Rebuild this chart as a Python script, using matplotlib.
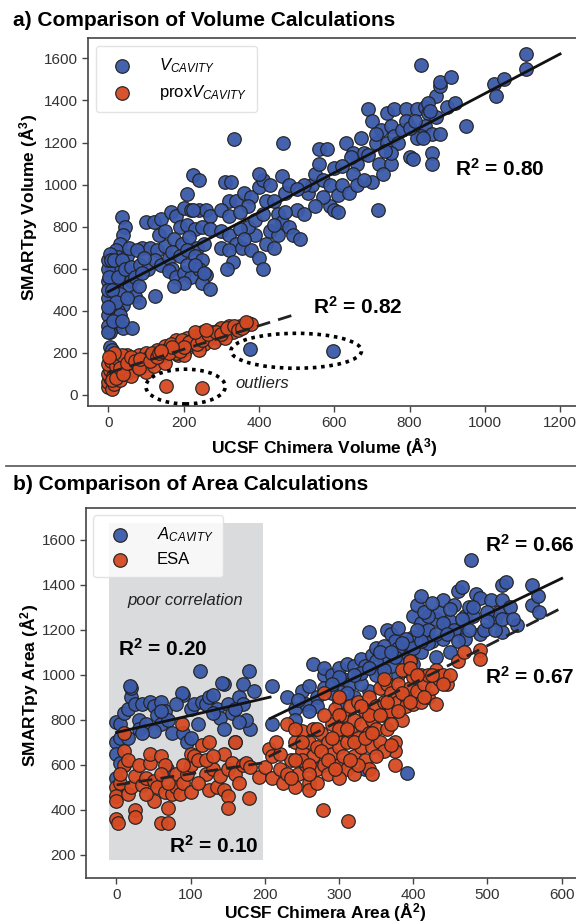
import numpy as np
import matplotlib
matplotlib.use("Agg")
import matplotlib.pyplot as plt
from matplotlib.patches import Ellipse, Rectangle
from matplotlib.lines import Line2D

plt.rcParams['font.family'] = ['Liberation Sans', 'DejaVu Sans']
plt.rcParams['mathtext.fontset'] = 'custom'
plt.rcParams['mathtext.rm'] = 'Liberation Sans'
plt.rcParams['mathtext.it'] = 'Liberation Sans:italic'
plt.rcParams['mathtext.bf'] = 'Liberation Sans:bold'

BLUE = '#3b5aa9'
RED = '#d64a22'

# ---- panel a: volumes (Chimera, SMARTpy) ----
vcav = np.array([
    (35, 845), (45, 800), (40, 760), (30, 720), (20, 690), (25, 655), (50, 660), (10, 610),
    (15, 575), (30, 600), (45, 560), (60, 540), (55, 520), (20, 520), (10, 470), (30, 480),
    (70, 470), (80, 440), (40, 430), (25, 400), (15, 370), (20, 330), (40, 320), (63, 318),
    (5, 300), (10, 400), (0, 460), (0, 540), (0, 600), (0, 640), (5, 670), (0, 380),
    (0, 330), (0, 300), (3, 230), (10, 215), (8, 640), (2, 560), (0, 500), (5, 420),
    (15, 640), (25, 560), (35, 640), (10, 500), (20, 440), (30, 380), (45, 600), (55, 700),
    (60, 610), (70, 560), (80, 520), (50, 460), (0, 420), (12, 350), (35, 350),
    (100, 820), (120, 820), (140, 835), (90, 700), (110, 700), (130, 690), (150, 710), (85, 620),
    (105, 600), (125, 640), (140, 620), (160, 650), (170, 600), (90, 580), (75, 690), (95, 650),
    (125, 470), (135, 760), (150, 780), (165, 870), (180, 850), (200, 890), (220, 880), (240, 880),
    (260, 880), (270, 850), (190, 800), (210, 810), (230, 790), (250, 800), (270, 790), (175, 740),
    (195, 720), (215, 750), (235, 700), (255, 720), (170, 680), (190, 660), (210, 690), (230, 660),
    (250, 640), (160, 590), (180, 560), (200, 580), (220, 560), (240, 600), (260, 570), (250, 530),
    (270, 505), (200, 530), (175, 520), (210, 620), (230, 620), (255, 580), (225, 1045), (240, 1020),
    (210, 955), (225, 880), (310, 1010), (325, 1010), (335, 1215), (320, 920), (340, 920), (300, 880),
    (320, 850), (360, 960), (380, 940), (370, 900), (350, 870), (300, 780), (320, 760), (340, 720),
    (300, 700), (320, 690), (330, 630), (355, 700), (380, 690), (400, 650), (410, 600), (390, 760),
    (370, 800), (390, 830), (410, 860), (420, 920), (400, 990), (410, 1020), (430, 1000), (440, 920),
    (450, 860), (430, 780), (420, 720), (440, 700), (400, 1050), (350, 790), (360, 740), (315, 600),
    (460, 1040), (465, 1200), (470, 960), (480, 1000), (500, 880), (460, 820), (480, 800), (490, 760),
    (510, 740), (520, 860), (530, 960), (540, 1000), (550, 1050), (560, 1170), (570, 1020), (580, 1170),
    (590, 900), (570, 940), (550, 900), (520, 1000), (500, 980), (450, 760), (440, 810), (470, 870),
    (560, 1100), (590, 1000), (600, 1080), (610, 950), (600, 880), (610, 870), (620, 1000), (630, 1200),
    (640, 960), (650, 1150), (660, 1100), (650, 1050), (660, 1000), (670, 1220), (680, 1150), (690, 1360),
    (700, 1300), (710, 1200), (720, 1100), (700, 1010), (715, 880), (680, 1020), (725, 1260), (740, 1340),
    (750, 1280), (760, 1360), (740, 1200), (750, 1100), (730, 1050), (760, 1230), (770, 1200), (780, 1260),
    (790, 1360), (800, 1130), (810, 1120), (790, 1300), (820, 1360), (690, 1140), (710, 1240), (750, 1150),
    (735, 1160), (645, 1130), (620, 1090), (830, 1570), (840, 1370), (850, 1340), (860, 1150), (860, 1100),
    (840, 1280), (830, 1230), (860, 1240), (870, 1420), (880, 1470), (880, 1490), (900, 1370), (910, 1510),
    (920, 1390), (880, 1240), (950, 1280), (870, 1320), (850, 1390), (820, 1220), (800, 1270), (815, 1300),
    (835, 1220), (855, 1350), (1025, 1480), (1030, 1420), (1050, 1500), (1110, 1620), (1110, 1550),
    (377, 219), (598, 209),
])
prox_vcav = np.array([
    (0, 40), (0, 60), (3, 80), (0, 100), (5, 120), (0, 145), (8, 160), (10, 30), (15, 50),
    (12, 90), (20, 110), (20, 140), (25, 170), (30, 70), (35, 100), (40, 130), (45, 160), (50, 190),
    (55, 110), (60, 140), (65, 170), (70, 120), (75, 150), (80, 190), (90, 140), (95, 170), (100, 200),
    (105, 155), (110, 185), (120, 170), (125, 200), (130, 215), (140, 185), (145, 210), (150, 235),
    (155, 195), (160, 225), (170, 210), (175, 240), (180, 260), (185, 190), (190, 230), (200, 250),
    (205, 220), (210, 270), (220, 240), (225, 260), (230, 280), (240, 250), (245, 270), (250, 300),
    (255, 240), (260, 280), (270, 270), (275, 300), (280, 290), (290, 270), (295, 310), (300, 320),
    (305, 290), (310, 300), (320, 330), (325, 310), (330, 300), (340, 320), (350, 330), (360, 330),
    (370, 340), (380, 335), (100, 110), (120, 140), (200, 190), (150, 150), (35, 190), (15, 200),
    (2, 180), (60, 90), (180, 200), (240, 215), (280, 250), (310, 270),
    (10, 70), (20, 80), (30, 130), (40, 100), (50, 150), (60, 180), (70, 160), (80, 130),
    (85, 170), (110, 160), (115, 200), (130, 180), (135, 200), (160, 200), (165, 240), (190, 210),
    (195, 260), (215, 250), (235, 240), (250, 260), (265, 290), (285, 300), (300, 290), (315, 320),
    (335, 330), (345, 310), (355, 320), (365, 345), (230, 300), (200, 230), (260, 310), (170, 230),
    (140, 210), (153, 43), (250, 32),
])
vol_fit_x = [0, 1200]
vol_fit_y = [491, 1621]
prox_fit_x = [0, 500]
prox_fit_y = [105, 385]

# ---- panel b: areas (Chimera, SMARTpy) ----
acav = np.array([
    (0, 790), (5, 780), (10, 830), (15, 850), (20, 900), (20, 940), (25, 870), (30, 800),
    (30, 760), (35, 870), (40, 780), (45, 880), (50, 860), (55, 820), (60, 780), (60, 880),
    (65, 840), (70, 800), (75, 740), (0, 700), (5, 720), (0, 650), (10, 600), (0, 540),
    (50, 750), (90, 910), (90, 740), (95, 700), (100, 850), (105, 870), (110, 780), (113, 1015),
    (115, 880), (120, 870), (125, 900), (130, 910), (135, 850), (140, 810), (145, 960), (145, 760),
    (150, 870), (155, 830), (160, 700), (165, 900), (170, 960), (178, 1015), (180, 760), (175, 800),
    (170, 870), (165, 790), (68, 580), (18, 949), (88, 919), (142, 963), (60, 840), (80, 870),
    (5, 610), (15, 720), (35, 740), (100, 720), (130, 830), (160, 850), (185, 930),
    (210, 950), (210, 780), (230, 900), (240, 850), (240, 800), (250, 930), (255, 870), (260, 950),
    (265, 1050), (270, 900), (280, 1000), (280, 1030), (290, 1000), (300, 950), (300, 1030), (305, 980),
    (310, 1050), (315, 960), (320, 1040), (325, 1000), (330, 1070), (335, 1040), (340, 1190), (345, 1090),
    (350, 1120), (355, 1020), (360, 1070), (365, 1200), (370, 1180), (375, 1150), (380, 1210), (385, 1080),
    (390, 1100), (395, 1130), (400, 1260), (400, 1170), (405, 1310), (410, 1350), (410, 1230), (415, 1190),
    (420, 1200), (425, 1150), (430, 1250), (435, 1280), (440, 1330), (445, 1210), (450, 1240), (455, 1310),
    (460, 1370), (465, 1390), (470, 1260), (475, 1300), (478, 1510), (480, 1260), (485, 1360), (490, 1340),
    (490, 1180), (495, 1200), (505, 1330), (510, 1250), (515, 1280), (520, 1190), (520, 1400), (525, 1410),
    (540, 1220), (560, 1400), (560, 1310), (568, 1350), (570, 1280), (520, 1330), (392, 565), (335, 580),
    (270, 860), (300, 880), (320, 900), (340, 930), (360, 960), (380, 1000), (400, 1050), (350, 1000),
    (370, 1040), (390, 1020), (410, 1100), (430, 1080), (420, 1140), (440, 1160), (460, 1200), (450, 1100),
    (470, 1160), (380, 1120), (360, 1130), (330, 960), (310, 920), (290, 920), (260, 840), (280, 940),
    (300, 990), (245, 890),
    (330, 1010), (350, 1060), (360, 1020), (375, 1080), (390, 1160), (400, 1120), (410, 1150), (420, 1260),
    (430, 1180), (440, 1230), (450, 1290), (455, 1200), (465, 1250), (475, 1200), (480, 1300), (500, 1280),
    (510, 1200), (530, 1300), (500, 1240), (290, 960), (320, 1000), (340, 1030), (355, 1100), (370, 1100),
    (385, 1140), (395, 1060), (405, 1200), (415, 1280), (425, 1320), (445, 1180), (460, 1150), (520, 1250),
    (535, 1250),
])
esa = np.array([
    (0, 500), (0, 460), (0, 440), (0, 360), (2, 340), (5, 520), (10, 600), (10, 660), (15, 620),
    (15, 470), (20, 500), (25, 550), (25, 400), (25, 370), (30, 600), (35, 510), (40, 540), (45, 610),
    (45, 650), (50, 440), (50, 530), (55, 500), (60, 640), (60, 340), (65, 600), (65, 480), (70, 340),
    (70, 410), (75, 470), (80, 560), (80, 500), (85, 470), (88, 780), (90, 520), (95, 560), (100, 650),
    (100, 600), (100, 480), (105, 640), (110, 620), (115, 690), (120, 560), (125, 490), (125, 700),
    (130, 580), (135, 500), (140, 550), (145, 650), (145, 490), (150, 580), (150, 460), (150, 410),
    (155, 610), (160, 700), (160, 560), (165, 520), (170, 600), (175, 610), (178, 455), (180, 590),
    (192, 545), (10, 740), (5, 560), (40, 470), (120, 620), (110, 520), (60, 560), (90, 600),
    (130, 640), (70, 520),
    (200, 590), (205, 670), (210, 640), (210, 540), (220, 580), (225, 520), (230, 780), (235, 620),
    (240, 500), (240, 700), (245, 560), (250, 660), (250, 750), (255, 600), (260, 700), (260, 520),
    (265, 640), (265, 760), (270, 680), (270, 580), (275, 740), (278, 400), (280, 600), (280, 920),
    (285, 700), (285, 560), (290, 780), (290, 650), (295, 720), (295, 850), (300, 680), (300, 600),
    (305, 760), (305, 820), (310, 700), (310, 580), (312, 350), (315, 750), (315, 860), (320, 640),
    (320, 800), (325, 720), (325, 880), (330, 680), (330, 780), (335, 840), (335, 620), (340, 740),
    (340, 900), (345, 800), (345, 680), (350, 860), (350, 760), (355, 940), (355, 700), (360, 820),
    (360, 880), (365, 760), (365, 960), (370, 840), (370, 920), (375, 700), (375, 660), (380, 960),
    (380, 880), (385, 1020), (385, 800), (390, 900), (390, 860), (395, 940), (400, 990), (400, 870),
    (405, 930), (410, 1000), (410, 880), (415, 960), (420, 900), (425, 940), (430, 1020), (430, 870),
    (435, 980), (440, 1000), (445, 960), (460, 1060), (468, 1100), (490, 1110), (490, 1070), (395, 1060),
    (360, 660), (370, 690), (340, 580), (320, 560), (300, 540), (260, 490), (230, 560), (250, 620),
    (280, 820), (300, 760), (340, 820), (360, 980), (420, 1000), (450, 1000), (395, 1030),
    (240, 620), (250, 700), (260, 600), (270, 760), (275, 660), (285, 620), (290, 720), (300, 820),
    (305, 640), (310, 760), (320, 700), (325, 600), (330, 860), (335, 720), (345, 740), (350, 640),
    (355, 820), (365, 880), (370, 780), (380, 840), (385, 920), (395, 880), (405, 1000), (415, 900),
    (425, 1000), (440, 960), (220, 650), (215, 700), (235, 540), (295, 580), (315, 620), (375, 600),
    (345, 560), (240, 760), (270, 520), (300, 900), (260, 560),
])
acav_fit_lo_x = [0, 207]
acav_fit_lo_y = [744, 901]
acav_fit_hi_x = [207, 600]
acav_fit_hi_y = [806, 1428]
esa_fit_lo_x = [0, 207]
esa_fit_lo_y = [511, 614]
esa_fit_hi_x = [205, 600]
esa_fit_hi_y = [636, 1297]

W, H = 576, 924
fig = plt.figure(figsize=(W / 100, H / 100), dpi=100)

def style_axes(ax):
    for s in ['top', 'left', 'bottom', 'right']:
        ax.spines[s].set_color('#444444')
        ax.spines[s].set_linewidth(1.2)
    ax.tick_params(direction='out', length=4, width=1, color='#444444',
                   labelcolor='#333333', labelsize=11, pad=3)

pt_kw = dict(s=95, linewidths=0.9, edgecolors='#222222', alpha=0.95)
r2_kw = dict(fontsize=15, fontweight='bold', va='center')

# ================= panel a =================
ax1 = fig.add_axes([87.7 / W, 1 - 405.9 / H, 510 / W, 367.5 / H])
style_axes(ax1)
ax1.scatter(vcav[:, 0], vcav[:, 1], color=BLUE, zorder=2, label='$V_{CAVITY}$', **pt_kw)
ax1.scatter(prox_vcav[:, 0], prox_vcav[:, 1], color=RED, zorder=2.1,
            label='prox$V_{CAVITY}$', **pt_kw)
ax1.plot(vol_fit_x, vol_fit_y, color='#111111', lw=2, zorder=3)
ax1.plot(prox_fit_x, prox_fit_y, color='#222222', lw=2, ls=(0, (5, 3)), zorder=3)
ax1.add_patch(Ellipse((499, 210), 347, 166, fill=False, ec='black', lw=2.6,
                      ls=(0, (1, 1.3)), zorder=4))
ax1.add_patch(Ellipse((205, 40), 211, 165, fill=False, ec='black', lw=2.6,
                      ls=(0, (1, 1.3)), zorder=4))
ax1.text(338, 56, 'outliers', style='italic', fontsize=12, va='center', color='#222222')
ax1.text(922, 1073, r'R$^{\mathbf{2}}$ = 0.80', **r2_kw)
ax1.text(543, 420, r'R$^{\mathbf{2}}$ = 0.82', **r2_kw)
ax1.set_xlim(-55, 1300)
ax1.set_ylim(-52, 1695)
ax1.set_xticks([0, 200, 400, 600, 800, 1000, 1200])
ax1.set_yticks([0, 200, 400, 600, 800, 1000, 1200, 1400, 1600])
ax1.set_xlabel(r'UCSF Chimera Volume (Å$^{\mathbf{3}}$)', fontsize=12.5, fontweight='bold', va='center')
ax1.set_ylabel(r'SMARTpy Volume (Å$^{\mathbf{3}}$)', fontsize=12.5, fontweight='bold', va='center')
ax1.xaxis.set_label_coords(0.465, -0.115)
ax1.yaxis.set_label_coords(-0.116, 0.54)
ax1.legend(loc='upper left', bbox_to_anchor=(0.0157, 0.979), borderaxespad=0,
           fontsize=12, frameon=True, edgecolor='#dddddd', fancybox=True,
           handletextpad=1.2, borderpad=0.6, labelspacing=0.5, markerscale=1.0)

# ================= panel b =================
ax2 = fig.add_axes([85.7 / W, 1 - 878.3 / H, 513.1 / W, 370.6 / H])
style_axes(ax2)
ax2.add_patch(Rectangle((-10, 176), 208, 1499, facecolor='#dadbdd', edgecolor='none', zorder=0))
ax2.scatter(acav[:, 0], acav[:, 1], color=BLUE, zorder=2, label='$A_{CAVITY}$', **pt_kw)
ax2.scatter(esa[:, 0], esa[:, 1], color=RED, zorder=2.1, label='ESA', **pt_kw)
ax2.plot(acav_fit_lo_x, acav_fit_lo_y, color='#111111', lw=2, zorder=3)
ax2.plot(acav_fit_hi_x, acav_fit_hi_y, color='#111111', lw=2, zorder=3)
ax2.plot(esa_fit_lo_x, esa_fit_lo_y, color='#222222', lw=2, ls=(0, (5, 3)), zorder=3)
ax2.plot(esa_fit_hi_x, esa_fit_hi_y, color='#222222', lw=2, ls=(0, (5, 3)), zorder=3)
ax2.text(93, 1329, 'poor correlation', style='italic', fontsize=12, ha='center',
         va='center', color='#222222')
ax2.text(2.5, 1115, r'R$^{\mathbf{2}}$ = 0.20', **r2_kw)
ax2.text(71, 240, r'R$^{\mathbf{2}}$ = 0.10', **r2_kw)
ax2.text(496, 1579, r'R$^{\mathbf{2}}$ = 0.66', **r2_kw)
ax2.text(497, 992, r'R$^{\mathbf{2}}$ = 0.67', **r2_kw)
ax2.set_xlim(-41.5, 650)
ax2.set_ylim(96.5, 1742)
ax2.set_xticks([0, 100, 200, 300, 400, 500, 600])
ax2.set_yticks([200, 400, 600, 800, 1000, 1200, 1400, 1600])
ax2.set_xlabel(r'UCSF Chimera Area (Å$^{\mathbf{2}}$)', fontsize=12.5, fontweight='bold', va='center')
ax2.set_ylabel(r'SMARTpy Area (Å$^{\mathbf{2}}$)', fontsize=12.5, fontweight='bold', va='center')
ax2.xaxis.set_label_coords(0.4675, -0.093)
ax2.yaxis.set_label_coords(-0.11, 0.519)
ax2.legend(loc='upper left', bbox_to_anchor=(0.015, 0.9795), borderaxespad=0,
           fontsize=12, frameon=True, edgecolor='#dddddd', fancybox=True,
           handletextpad=1.2, borderpad=0.6, labelspacing=0.5, markerscale=1.0)

# titles and separator
fig.text(12.9 / W, 1 - 21 / H, 'a) Comparison of Volume Calculations', fontsize=15,
         fontweight='bold', va='center', ha='left')
fig.text(13.3 / W, 1 - 485 / H, 'b) Comparison of Area Calculations', fontsize=15,
         fontweight='bold', va='center', ha='left')
fig.add_artist(Line2D([5.7 / W, 1.0], [1 - 465.7 / H, 1 - 465.7 / H],
                      color='#555555', lw=1.2, transform=fig.transFigure))

fig.savefig('out.png', dpi=100)
